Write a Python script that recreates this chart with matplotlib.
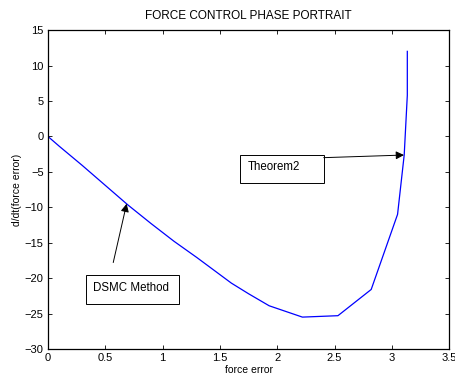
import matplotlib
matplotlib.use("Agg")
import matplotlib.pyplot as plt
from matplotlib.patches import Rectangle

plt.rcParams['font.family'] = ['Liberation Sans', 'DejaVu Sans']

force_error = [0.0, 0.1, 0.3, 0.5, 0.7, 0.9, 1.1, 1.3, 1.45, 1.6, 1.75, 1.93,
               2.22, 2.53, 2.82, 3.05, 3.108, 3.135, 3.135]
d_force_error = [0.0, -1.4, -4.1, -6.9, -9.7, -12.3, -14.8, -17.1, -18.9, -20.7,
                 -22.2, -23.9, -25.5, -25.3, -21.6, -11.0, -2.6, 5.8, 12.0]

xticks = [0, 0.5, 1, 1.5, 2, 2.5, 3, 3.5]
xticklabels = ['0', '0.5', '1', '1.5', '2', '2.5', '3', '3.5']
yticks = [-30, -25, -20, -15, -10, -5, 0, 5, 10, 15]

fig = plt.figure(figsize=(4.56, 3.81), dpi=100)
ax = fig.add_axes([0.105, 0.084, 0.88, 0.837])
ax.plot(force_error, d_force_error, color='#0000ff', lw=0.9)
ax.set_xlim(0, 3.5)
ax.set_ylim(-30, 15)
ax.set_xticks(xticks)
ax.set_xticklabels(xticklabels)
ax.set_yticks(yticks)
ax.tick_params(direction='in', top=True, right=True, labelsize=8, length=3, width=0.6, pad=3)
for s in ax.spines.values():
    s.set_linewidth(0.9)
ax.set_title('FORCE CONTROL PHASE PORTRAIT', fontsize=8.5, pad=8)
ax.set_xlabel('force error', fontsize=7.5, labelpad=1)
ax.set_ylabel('d/dt(force error)', fontsize=7.5, labelpad=2)

# Theorem2 box and arrow
ax.add_patch(Rectangle((1.678, -6.62), 2.406 - 1.678, -2.63 + 6.62, fill=False, ec='black', lw=0.7))
ax.text(1.745, -4.3, 'Theorem2', fontsize=8.3, va='center', ha='left')
ax.annotate('', xy=(3.106, -2.63), xytext=(2.406, -3.0),
            arrowprops=dict(arrowstyle='-|>', color='black', lw=0.7, mutation_scale=12,
                            shrinkA=0, shrinkB=0))

# DSMC box and arrow
ax.add_patch(Rectangle((0.332, -23.65), 1.146 - 0.332, -19.6 + 23.65, fill=False, ec='black', lw=0.7))
ax.text(0.395, -21.4, 'DSMC Method', fontsize=8.3, va='center', ha='left')
ax.annotate('', xy=(0.687, -9.5), xytext=(0.57, -17.8),
            arrowprops=dict(arrowstyle='-|>', color='black', lw=0.7, mutation_scale=12,
                            shrinkA=0, shrinkB=0))

fig.savefig('out.png', dpi=100)
